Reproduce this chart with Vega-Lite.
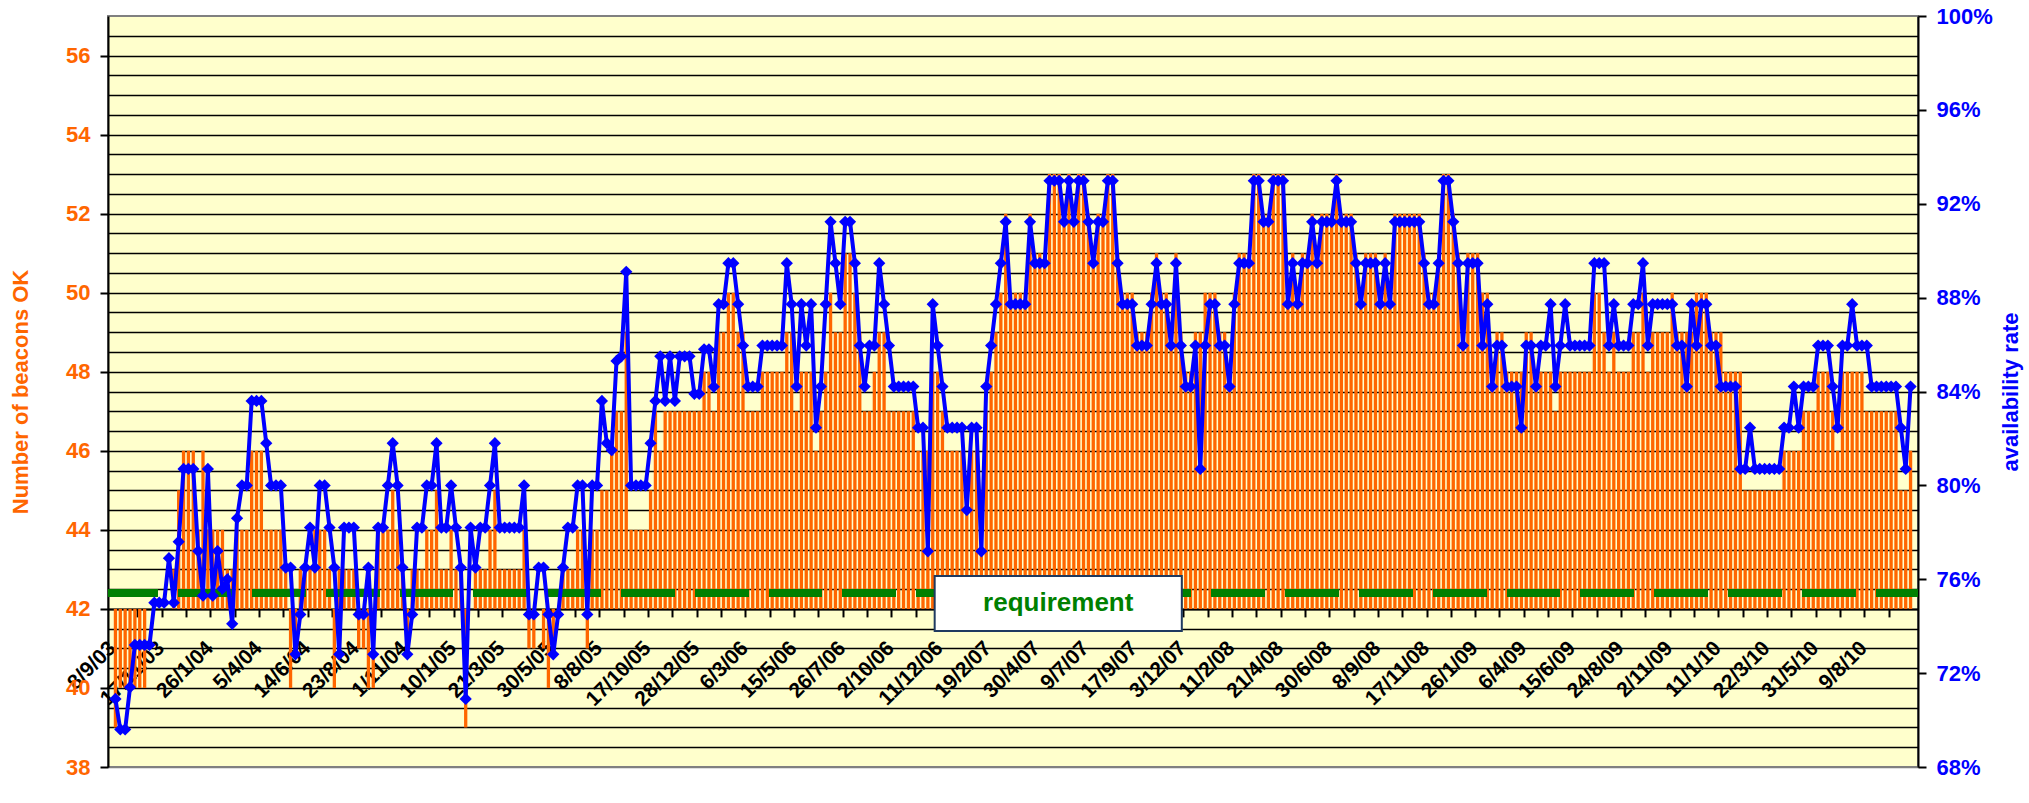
{
"$schema": "https://vega.github.io/schema/vega-lite/v6.json",
"width": 1810, "height": 751,
"autosize": {"type": "none"},
"padding": {"left": 108, "top": 16, "right": 111, "bottom": 36},
"background": "white",
"config": {
  "view": {"fill": "#FFFFCC", "stroke": "#808080", "strokeWidth": 2},
  "font": "Liberation Sans",
  "axis": {"labelFont": "Liberation Sans", "titleFont": "Liberation Sans", "labelFontWeight": "bold", "titleFontWeight": "bold", "domainColor": "#000000", "tickColor": "#000000", "domainWidth": 2, "tickWidth": 2}
},
"data": {"values": [
{"i":0,"b":39,"a":70.9},{"i":1,"b":40,"a":69.6},{"i":2,"b":40,"a":69.6},{"i":3,"b":40,"a":71.4},{"i":4,"b":40,"a":73.2},{"i":5,"b":40,"a":73.2},{"i":6,"b":40,"a":73.2},{"i":7,"b":42,"a":73.2},{"i":8,"b":42,"a":75.0},{"i":9,"b":42,"a":75.0},
{"i":10,"b":42,"a":75.0},{"i":11,"b":42,"a":76.9},{"i":12,"b":43,"a":75.0},{"i":13,"b":45,"a":77.6},{"i":14,"b":46,"a":80.7},{"i":15,"b":46,"a":80.7},{"i":16,"b":46,"a":80.7},{"i":17,"b":44,"a":77.2},{"i":18,"b":46,"a":75.3},{"i":19,"b":44,"a":80.7},
{"i":20,"b":44,"a":75.3},{"i":21,"b":44,"a":77.2},{"i":22,"b":44,"a":75.6},{"i":23,"b":43,"a":76.0},{"i":24,"b":43,"a":74.1},{"i":25,"b":44,"a":78.6},{"i":26,"b":44,"a":80.0},{"i":27,"b":44,"a":80.0},{"i":28,"b":46,"a":83.6},{"i":29,"b":46,"a":83.6},
{"i":30,"b":46,"a":83.6},{"i":31,"b":44,"a":81.8},{"i":32,"b":44,"a":80.0},{"i":33,"b":44,"a":80.0},{"i":34,"b":44,"a":80.0},{"i":35,"b":43,"a":76.5},{"i":36,"b":40,"a":76.5},{"i":37,"b":41,"a":72.8},{"i":38,"b":43,"a":74.5},{"i":39,"b":43,"a":76.5},
{"i":40,"b":43,"a":78.2},{"i":41,"b":44,"a":76.5},{"i":42,"b":44,"a":80.0},{"i":43,"b":44,"a":80.0},{"i":44,"b":43,"a":78.2},{"i":45,"b":40,"a":76.5},{"i":46,"b":43,"a":72.8},{"i":47,"b":43,"a":78.2},{"i":48,"b":43,"a":78.2},{"i":49,"b":43,"a":78.2},
{"i":50,"b":41,"a":74.5},{"i":51,"b":41,"a":74.5},{"i":52,"b":40,"a":76.5},{"i":53,"b":40,"a":72.8},{"i":54,"b":44,"a":78.2},{"i":55,"b":44,"a":78.2},{"i":56,"b":44,"a":80.0},{"i":57,"b":45,"a":81.8},{"i":58,"b":44,"a":80.0},{"i":59,"b":43,"a":76.5},
{"i":60,"b":41,"a":72.8},{"i":61,"b":43,"a":74.5},{"i":62,"b":43,"a":78.2},{"i":63,"b":43,"a":78.2},{"i":64,"b":44,"a":80.0},{"i":65,"b":44,"a":80.0},{"i":66,"b":45,"a":81.8},{"i":67,"b":43,"a":78.2},{"i":68,"b":43,"a":78.2},{"i":69,"b":44,"a":80.0},
{"i":70,"b":43,"a":78.2},{"i":71,"b":43,"a":76.5},{"i":72,"b":39,"a":70.9},{"i":73,"b":42,"a":78.2},{"i":74,"b":43,"a":76.5},{"i":75,"b":43,"a":78.2},{"i":76,"b":43,"a":78.2},{"i":77,"b":44,"a":80.0},{"i":78,"b":45,"a":81.8},{"i":79,"b":43,"a":78.2},
{"i":80,"b":43,"a":78.2},{"i":81,"b":43,"a":78.2},{"i":82,"b":43,"a":78.2},{"i":83,"b":43,"a":78.2},{"i":84,"b":44,"a":80.0},{"i":85,"b":41,"a":74.5},{"i":86,"b":41,"a":74.5},{"i":87,"b":42,"a":76.5},{"i":88,"b":41,"a":76.5},{"i":89,"b":40,"a":74.5},
{"i":90,"b":41,"a":72.8},{"i":91,"b":42,"a":74.5},{"i":92,"b":43,"a":76.5},{"i":93,"b":43,"a":78.2},{"i":94,"b":43,"a":78.2},{"i":95,"b":44,"a":80.0},{"i":96,"b":44,"a":80.0},{"i":97,"b":41,"a":74.5},{"i":98,"b":44,"a":80.0},{"i":99,"b":44,"a":80.0},
{"i":100,"b":45,"a":83.6},{"i":101,"b":45,"a":81.8},{"i":102,"b":46,"a":81.5},{"i":103,"b":47,"a":85.3},{"i":104,"b":47,"a":85.5},{"i":105,"b":49,"a":89.1},{"i":106,"b":44,"a":80.0},{"i":107,"b":44,"a":80.0},{"i":108,"b":44,"a":80.0},{"i":109,"b":44,"a":80.0},
{"i":110,"b":45,"a":81.8},{"i":111,"b":47,"a":83.6},{"i":112,"b":46,"a":85.5},{"i":113,"b":47,"a":83.6},{"i":114,"b":47,"a":85.5},{"i":115,"b":47,"a":83.6},{"i":116,"b":47,"a":85.5},{"i":117,"b":47,"a":85.5},{"i":118,"b":47,"a":85.5},{"i":119,"b":47,"a":83.9},
{"i":120,"b":47,"a":83.9},{"i":121,"b":48,"a":85.8},{"i":122,"b":48,"a":85.8},{"i":123,"b":47,"a":84.2},{"i":124,"b":49,"a":87.72},{"i":125,"b":49,"a":87.72},{"i":126,"b":50,"a":89.47},{"i":127,"b":50,"a":89.47},{"i":128,"b":49,"a":87.72},{"i":129,"b":49,"a":85.96},
{"i":130,"b":47,"a":84.21},{"i":131,"b":47,"a":84.21},{"i":132,"b":47,"a":84.21},{"i":133,"b":48,"a":85.96},{"i":134,"b":48,"a":85.96},{"i":135,"b":48,"a":85.96},{"i":136,"b":48,"a":85.96},{"i":137,"b":48,"a":85.96},{"i":138,"b":49,"a":89.47},{"i":139,"b":49,"a":87.72},
{"i":140,"b":47,"a":84.21},{"i":141,"b":48,"a":87.72},{"i":142,"b":48,"a":85.96},{"i":143,"b":48,"a":87.72},{"i":144,"b":46,"a":82.46},{"i":145,"b":47,"a":84.21},{"i":146,"b":48,"a":87.72},{"i":147,"b":50,"a":91.23},{"i":148,"b":49,"a":89.47},{"i":149,"b":49,"a":87.72},
{"i":150,"b":51,"a":91.23},{"i":151,"b":51,"a":91.23},{"i":152,"b":50,"a":89.47},{"i":153,"b":49,"a":85.96},{"i":154,"b":47,"a":84.21},{"i":155,"b":47,"a":85.96},{"i":156,"b":48,"a":85.96},{"i":157,"b":49,"a":89.47},{"i":158,"b":49,"a":87.72},{"i":159,"b":47,"a":85.96},
{"i":160,"b":47,"a":84.21},{"i":161,"b":47,"a":84.21},{"i":162,"b":47,"a":84.21},{"i":163,"b":47,"a":84.21},{"i":164,"b":47,"a":84.21},{"i":165,"b":46,"a":82.46},{"i":166,"b":46,"a":82.46},{"i":167,"b":46,"a":77.19},{"i":168,"b":48,"a":87.72},{"i":169,"b":48,"a":85.96},
{"i":170,"b":47,"a":84.21},{"i":171,"b":46,"a":82.46},{"i":172,"b":46,"a":82.46},{"i":173,"b":46,"a":82.46},{"i":174,"b":46,"a":82.46},{"i":175,"b":45,"a":78.95},{"i":176,"b":46,"a":82.46},{"i":177,"b":46,"a":82.46},{"i":178,"b":45,"a":77.19},{"i":179,"b":47,"a":84.21},
{"i":180,"b":48,"a":85.96},{"i":181,"b":49,"a":87.72},{"i":182,"b":50,"a":89.47},{"i":183,"b":52,"a":91.23},{"i":184,"b":50,"a":87.72},{"i":185,"b":50,"a":87.72},{"i":186,"b":50,"a":87.72},{"i":187,"b":50,"a":87.72},{"i":188,"b":52,"a":91.23},{"i":189,"b":51,"a":89.47},
{"i":190,"b":51,"a":89.47},{"i":191,"b":51,"a":89.47},{"i":192,"b":53,"a":92.98},{"i":193,"b":53,"a":92.98},{"i":194,"b":53,"a":92.98},{"i":195,"b":52,"a":91.23},{"i":196,"b":53,"a":92.98},{"i":197,"b":52,"a":91.23},{"i":198,"b":53,"a":92.98},{"i":199,"b":53,"a":92.98},
{"i":200,"b":52,"a":91.23},{"i":201,"b":51,"a":89.47},{"i":202,"b":52,"a":91.23},{"i":203,"b":52,"a":91.23},{"i":204,"b":53,"a":92.98},{"i":205,"b":53,"a":92.98},{"i":206,"b":51,"a":89.47},{"i":207,"b":50,"a":87.72},{"i":208,"b":50,"a":87.72},{"i":209,"b":50,"a":87.72},
{"i":210,"b":49,"a":85.96},{"i":211,"b":49,"a":85.96},{"i":212,"b":49,"a":85.96},{"i":213,"b":50,"a":87.72},{"i":214,"b":51,"a":89.47},{"i":215,"b":50,"a":87.72},{"i":216,"b":50,"a":87.72},{"i":217,"b":49,"a":85.96},{"i":218,"b":51,"a":89.47},{"i":219,"b":49,"a":85.96},
{"i":220,"b":48,"a":84.21},{"i":221,"b":48,"a":84.21},{"i":222,"b":49,"a":85.96},{"i":223,"b":49,"a":80.70},{"i":224,"b":50,"a":85.96},{"i":225,"b":50,"a":87.72},{"i":226,"b":50,"a":87.72},{"i":227,"b":49,"a":85.96},{"i":228,"b":49,"a":85.96},{"i":229,"b":48,"a":84.21},
{"i":230,"b":50,"a":87.72},{"i":231,"b":51,"a":89.47},{"i":232,"b":51,"a":89.47},{"i":233,"b":51,"a":89.47},{"i":234,"b":53,"a":92.98},{"i":235,"b":53,"a":92.98},{"i":236,"b":52,"a":91.23},{"i":237,"b":52,"a":91.23},{"i":238,"b":53,"a":92.98},{"i":239,"b":53,"a":92.98},
{"i":240,"b":53,"a":92.98},{"i":241,"b":50,"a":87.72},{"i":242,"b":51,"a":89.47},{"i":243,"b":50,"a":87.72},{"i":244,"b":51,"a":89.47},{"i":245,"b":51,"a":89.47},{"i":246,"b":52,"a":91.23},{"i":247,"b":51,"a":89.47},{"i":248,"b":52,"a":91.23},{"i":249,"b":52,"a":91.23},
{"i":250,"b":52,"a":91.23},{"i":251,"b":53,"a":92.98},{"i":252,"b":52,"a":91.23},{"i":253,"b":52,"a":91.23},{"i":254,"b":52,"a":91.23},{"i":255,"b":51,"a":89.47},{"i":256,"b":50,"a":87.72},{"i":257,"b":51,"a":89.47},{"i":258,"b":51,"a":89.47},{"i":259,"b":51,"a":89.47},
{"i":260,"b":50,"a":87.72},{"i":261,"b":51,"a":89.47},{"i":262,"b":50,"a":87.72},{"i":263,"b":52,"a":91.23},{"i":264,"b":52,"a":91.23},{"i":265,"b":52,"a":91.23},{"i":266,"b":52,"a":91.23},{"i":267,"b":52,"a":91.23},{"i":268,"b":52,"a":91.23},{"i":269,"b":51,"a":89.47},
{"i":270,"b":50,"a":87.72},{"i":271,"b":50,"a":87.72},{"i":272,"b":51,"a":89.47},{"i":273,"b":53,"a":92.98},{"i":274,"b":53,"a":92.98},{"i":275,"b":52,"a":91.23},{"i":276,"b":51,"a":89.47},{"i":277,"b":49,"a":85.96},{"i":278,"b":51,"a":89.47},{"i":279,"b":51,"a":89.47},
{"i":280,"b":51,"a":89.47},{"i":281,"b":50,"a":85.96},{"i":282,"b":50,"a":87.72},{"i":283,"b":48,"a":84.21},{"i":284,"b":49,"a":85.96},{"i":285,"b":49,"a":85.96},{"i":286,"b":48,"a":84.21},{"i":287,"b":48,"a":84.21},{"i":288,"b":48,"a":84.21},{"i":289,"b":48,"a":82.46},
{"i":290,"b":49,"a":85.96},{"i":291,"b":49,"a":85.96},{"i":292,"b":48,"a":84.21},{"i":293,"b":48,"a":85.96},{"i":294,"b":48,"a":85.96},{"i":295,"b":48,"a":87.72},{"i":296,"b":47,"a":84.21},{"i":297,"b":48,"a":85.96},{"i":298,"b":48,"a":87.72},{"i":299,"b":48,"a":85.96},
{"i":300,"b":48,"a":85.96},{"i":301,"b":48,"a":85.96},{"i":302,"b":48,"a":85.96},{"i":303,"b":48,"a":85.96},{"i":304,"b":50,"a":89.47},{"i":305,"b":50,"a":89.47},{"i":306,"b":49,"a":89.47},{"i":307,"b":48,"a":85.96},{"i":308,"b":49,"a":87.72},{"i":309,"b":48,"a":85.96},
{"i":310,"b":48,"a":85.96},{"i":311,"b":48,"a":85.96},{"i":312,"b":49,"a":87.72},{"i":313,"b":49,"a":87.72},{"i":314,"b":50,"a":89.47},{"i":315,"b":48,"a":85.96},{"i":316,"b":49,"a":87.72},{"i":317,"b":49,"a":87.72},{"i":318,"b":49,"a":87.72},{"i":319,"b":49,"a":87.72},
{"i":320,"b":50,"a":87.72},{"i":321,"b":49,"a":85.96},{"i":322,"b":49,"a":85.96},{"i":323,"b":49,"a":84.21},{"i":324,"b":49,"a":87.72},{"i":325,"b":50,"a":85.96},{"i":326,"b":50,"a":87.72},{"i":327,"b":50,"a":87.72},{"i":328,"b":49,"a":85.96},{"i":329,"b":49,"a":85.96},
{"i":330,"b":49,"a":84.21},{"i":331,"b":48,"a":84.21},{"i":332,"b":48,"a":84.21},{"i":333,"b":48,"a":84.21},{"i":334,"b":48,"a":80.70},{"i":335,"b":45,"a":80.70},{"i":336,"b":45,"a":82.46},{"i":337,"b":45,"a":80.70},{"i":338,"b":45,"a":80.70},{"i":339,"b":45,"a":80.70},
{"i":340,"b":45,"a":80.70},{"i":341,"b":45,"a":80.70},{"i":342,"b":45,"a":80.70},{"i":343,"b":46,"a":82.46},{"i":344,"b":46,"a":82.46},{"i":345,"b":46,"a":84.21},{"i":346,"b":46,"a":82.46},{"i":347,"b":47,"a":84.21},{"i":348,"b":47,"a":84.21},{"i":349,"b":47,"a":84.21},
{"i":350,"b":48,"a":85.96},{"i":351,"b":48,"a":85.96},{"i":352,"b":48,"a":85.96},{"i":353,"b":47,"a":84.21},{"i":354,"b":46,"a":82.46},{"i":355,"b":48,"a":85.96},{"i":356,"b":48,"a":85.96},{"i":357,"b":48,"a":87.72},{"i":358,"b":48,"a":85.96},{"i":359,"b":48,"a":85.96},
{"i":360,"b":47,"a":85.96},{"i":361,"b":47,"a":84.21},{"i":362,"b":47,"a":84.21},{"i":363,"b":47,"a":84.21},{"i":364,"b":47,"a":84.21},{"i":365,"b":47,"a":84.21},{"i":366,"b":47,"a":84.21},{"i":367,"b":45,"a":82.46},{"i":368,"b":45,"a":80.70},{"i":369,"b":46,"a":84.21}
]},
"layer": [
  {"mark": {"type": "bar", "color": "#FF6600", "width": 3.3},
   "encoding": {
     "x": {"field": "i", "type": "quantitative", "scale": {"domain": [-0.5, 369.5], "nice": false, "zero": false},
       "axis": {"orient": "bottom", "offset": -158.1, "title": null, "grid": false, "zindex": 0,
         "values": [0,4.5,9.5,10,14.5,19.5,20,24.5,29.5,30,34.5,39.5,40,44.5,49.5,50,54.5,59.5,60,64.5,69.5,70,74.5,79.5,80,84.5,89.5,90,94.5,99.5,100,104.5,109.5,110,114.5,119.5,120,124.5,129.5,130,134.5,139.5,140,144.5,149.5,150,154.5,159.5,160,164.5,169.5,170,174.5,179.5,180,184.5,189.5,190,194.5,199.5,200,204.5,209.5,210,214.5,219.5,220,224.5,229.5,230,234.5,239.5,240,244.5,249.5,250,254.5,259.5,260,264.5,269.5,270,274.5,279.5,280,284.5,289.5,290,294.5,299.5,300,304.5,309.5,310,314.5,319.5,320,324.5,329.5,330,334.5,339.5,340,344.5,349.5,350,354.5,359.5,360,364.5],
         "labelExpr": "floor(datum.value) == datum.value ? ['8/9/03','17/11/03','26/1/04','5/4/04','14/6/04','23/8/04','1/11/04','10/1/05','21/3/05','30/5/05','8/8/05','17/10/05','28/12/05','6/3/06','15/5/06','26/7/06','2/10/06','11/12/06','19/2/07','30/4/07','9/7/07','17/9/07','3/12/07','11/2/08','21/4/08','30/6/08','8/9/08','17/11/08','26/1/09','6/4/09','15/6/09','24/8/09','2/11/09','11/1/10','22/3/10','31/5/10','9/8/10'][datum.value / 10] : ''",
         "labelAngle": -45, "labelAlign": "right", "labelBaseline": "top", "labelFontSize": 21, "labelColor": "#000000",
         "labelPadding": 20, "labelOffset": -11, "labelOverlap": false, "labelBound": false, "labelFlush": false,
         "tickSize": 8, "tickOpacity": {"condition": {"test": "floor(datum.value) != datum.value", "value": 1}, "value": 0},
         "domainColor": "#000000", "domainWidth": 2}},
     "y": {"field": "b", "type": "quantitative", "scale": {"domain": [38, 57], "nice": false, "zero": false},
       "axis": {"orient": "left", "title": "Number of beacons OK", "titleColor": "#FF6600", "titleFontSize": 22, "titlePadding": 33,
         "values": [38,38.5,39,39.5,40,40.5,41,41.5,42,42.5,43,43.5,44,44.5,45,45.5,46,46.5,47,47.5,48,48.5,49,49.5,50,50.5,51,51.5,52,52.5,53,53.5,54,54.5,55,55.5,56,56.5],
         "labelExpr": "datum.value % 2 == 0 ? format(datum.value, 'd') : ''",
         "labelColor": "#FF6600", "labelFontSize": 22, "labelPadding": 10, "labelOverlap": false,
         "tickSize": 8, "tickOpacity": {"condition": {"test": "datum.value % 2 == 0", "value": 1}, "value": 0},
         "grid": true, "gridWidth": 1.5, "gridColor": {"condition": {"test": "datum.value == 38", "value": "#808080"}, "value": "#000000"}}},
     "y2": {"datum": 42}
   }},
  {"mark": {"type": "rule", "color": "#008000", "strokeWidth": 6.5, "strokeDash": [53, 20.8], "strokeDashOffset": 11},
   "encoding": {"y": {"datum": 42.4, "type": "quantitative", "scale": {"domain": [38, 57], "nice": false, "zero": false}, "axis": null}}},
  {"mark": {"type": "rect", "fill": "#FFFFFF", "stroke": "#1F3A60", "strokeWidth": 2},
   "data": {"values": [{"from": 168.4, "to": 219.2, "top": 42.83, "bottom": 41.44}]},
   "encoding": {
     "x": {"field": "from", "type": "quantitative", "axis": {"orient": "bottom", "offset": -158.1, "title": null, "grid": false, "zindex": 0,
         "values": [0,4.5,9.5,10,14.5,19.5,20,24.5,29.5,30,34.5,39.5,40,44.5,49.5,50,54.5,59.5,60,64.5,69.5,70,74.5,79.5,80,84.5,89.5,90,94.5,99.5,100,104.5,109.5,110,114.5,119.5,120,124.5,129.5,130,134.5,139.5,140,144.5,149.5,150,154.5,159.5,160,164.5,169.5,170,174.5,179.5,180,184.5,189.5,190,194.5,199.5,200,204.5,209.5,210,214.5,219.5,220,224.5,229.5,230,234.5,239.5,240,244.5,249.5,250,254.5,259.5,260,264.5,269.5,270,274.5,279.5,280,284.5,289.5,290,294.5,299.5,300,304.5,309.5,310,314.5,319.5,320,324.5,329.5,330,334.5,339.5,340,344.5,349.5,350,354.5,359.5,360,364.5],
         "labelExpr": "floor(datum.value) == datum.value ? ['8/9/03','17/11/03','26/1/04','5/4/04','14/6/04','23/8/04','1/11/04','10/1/05','21/3/05','30/5/05','8/8/05','17/10/05','28/12/05','6/3/06','15/5/06','26/7/06','2/10/06','11/12/06','19/2/07','30/4/07','9/7/07','17/9/07','3/12/07','11/2/08','21/4/08','30/6/08','8/9/08','17/11/08','26/1/09','6/4/09','15/6/09','24/8/09','2/11/09','11/1/10','22/3/10','31/5/10','9/8/10'][datum.value / 10] : ''",
         "labelAngle": -45, "labelAlign": "right", "labelBaseline": "top", "labelFontSize": 21, "labelColor": "#000000",
         "labelPadding": 20, "labelOffset": -11, "labelOverlap": false, "labelBound": false, "labelFlush": false,
         "tickSize": 8, "tickOpacity": {"condition": {"test": "floor(datum.value) != datum.value", "value": 1}, "value": 0},
         "domainColor": "#000000", "domainWidth": 2}},
     "x2": {"field": "to"},
     "y": {"field": "top", "type": "quantitative", "scale": {"domain": [38, 57], "nice": false, "zero": false}, "axis": null},
     "y2": {"field": "bottom"}
   }},
  {"mark": {"type": "text", "color": "#008000", "fontSize": 26, "fontWeight": "bold", "font": "Liberation Sans", "align": "center", "baseline": "middle"},
   "data": {"values": [{"label": "requirement", "mid": 193.8, "level": 42.14}]},
   "encoding": {
     "text": {"field": "label"},
     "x": {"field": "mid", "type": "quantitative", "axis": {"orient": "bottom", "offset": -158.1, "title": null, "grid": false, "zindex": 0,
         "values": [0,4.5,9.5,10,14.5,19.5,20,24.5,29.5,30,34.5,39.5,40,44.5,49.5,50,54.5,59.5,60,64.5,69.5,70,74.5,79.5,80,84.5,89.5,90,94.5,99.5,100,104.5,109.5,110,114.5,119.5,120,124.5,129.5,130,134.5,139.5,140,144.5,149.5,150,154.5,159.5,160,164.5,169.5,170,174.5,179.5,180,184.5,189.5,190,194.5,199.5,200,204.5,209.5,210,214.5,219.5,220,224.5,229.5,230,234.5,239.5,240,244.5,249.5,250,254.5,259.5,260,264.5,269.5,270,274.5,279.5,280,284.5,289.5,290,294.5,299.5,300,304.5,309.5,310,314.5,319.5,320,324.5,329.5,330,334.5,339.5,340,344.5,349.5,350,354.5,359.5,360,364.5],
         "labelExpr": "floor(datum.value) == datum.value ? ['8/9/03','17/11/03','26/1/04','5/4/04','14/6/04','23/8/04','1/11/04','10/1/05','21/3/05','30/5/05','8/8/05','17/10/05','28/12/05','6/3/06','15/5/06','26/7/06','2/10/06','11/12/06','19/2/07','30/4/07','9/7/07','17/9/07','3/12/07','11/2/08','21/4/08','30/6/08','8/9/08','17/11/08','26/1/09','6/4/09','15/6/09','24/8/09','2/11/09','11/1/10','22/3/10','31/5/10','9/8/10'][datum.value / 10] : ''",
         "labelAngle": -45, "labelAlign": "right", "labelBaseline": "top", "labelFontSize": 21, "labelColor": "#000000",
         "labelPadding": 20, "labelOffset": -11, "labelOverlap": false, "labelBound": false, "labelFlush": false,
         "tickSize": 8, "tickOpacity": {"condition": {"test": "floor(datum.value) != datum.value", "value": 1}, "value": 0},
         "domainColor": "#000000", "domainWidth": 2}},
     "y": {"field": "level", "type": "quantitative", "scale": {"domain": [38, 57], "nice": false, "zero": false}, "axis": null}
   }},
  {"mark": {"type": "line", "color": "#0000FF", "strokeWidth": 4, "point": {"shape": "diamond", "filled": true, "size": 150, "color": "#0000FF"}},
   "encoding": {
     "x": {"field": "i", "type": "quantitative", "axis": {"orient": "bottom", "offset": -158.1, "title": null, "grid": false, "zindex": 0,
         "values": [0,4.5,9.5,10,14.5,19.5,20,24.5,29.5,30,34.5,39.5,40,44.5,49.5,50,54.5,59.5,60,64.5,69.5,70,74.5,79.5,80,84.5,89.5,90,94.5,99.5,100,104.5,109.5,110,114.5,119.5,120,124.5,129.5,130,134.5,139.5,140,144.5,149.5,150,154.5,159.5,160,164.5,169.5,170,174.5,179.5,180,184.5,189.5,190,194.5,199.5,200,204.5,209.5,210,214.5,219.5,220,224.5,229.5,230,234.5,239.5,240,244.5,249.5,250,254.5,259.5,260,264.5,269.5,270,274.5,279.5,280,284.5,289.5,290,294.5,299.5,300,304.5,309.5,310,314.5,319.5,320,324.5,329.5,330,334.5,339.5,340,344.5,349.5,350,354.5,359.5,360,364.5],
         "labelExpr": "floor(datum.value) == datum.value ? ['8/9/03','17/11/03','26/1/04','5/4/04','14/6/04','23/8/04','1/11/04','10/1/05','21/3/05','30/5/05','8/8/05','17/10/05','28/12/05','6/3/06','15/5/06','26/7/06','2/10/06','11/12/06','19/2/07','30/4/07','9/7/07','17/9/07','3/12/07','11/2/08','21/4/08','30/6/08','8/9/08','17/11/08','26/1/09','6/4/09','15/6/09','24/8/09','2/11/09','11/1/10','22/3/10','31/5/10','9/8/10'][datum.value / 10] : ''",
         "labelAngle": -45, "labelAlign": "right", "labelBaseline": "top", "labelFontSize": 21, "labelColor": "#000000",
         "labelPadding": 20, "labelOffset": -11, "labelOverlap": false, "labelBound": false, "labelFlush": false,
         "tickSize": 8, "tickOpacity": {"condition": {"test": "floor(datum.value) != datum.value", "value": 1}, "value": 0},
         "domainColor": "#000000", "domainWidth": 2}},
     "y": {"field": "a", "type": "quantitative", "scale": {"domain": [68, 100], "nice": false, "zero": false},
       "axis": {"orient": "right", "title": "availability rate", "titleColor": "#0000FF", "titleFontSize": 22, "titleAngle": -90, "titleBaseline": "top", "titlePadding": 8,
         "values": [68,72,76,80,84,88,92,96,100], "labelExpr": "datum.value + '%'", "labelColor": "#0000FF", "labelFontSize": 22, "labelPadding": 10,
         "tickSize": 8, "grid": false}}
   }}
],
"resolve": {"scale": {"y": "independent"}}
}
